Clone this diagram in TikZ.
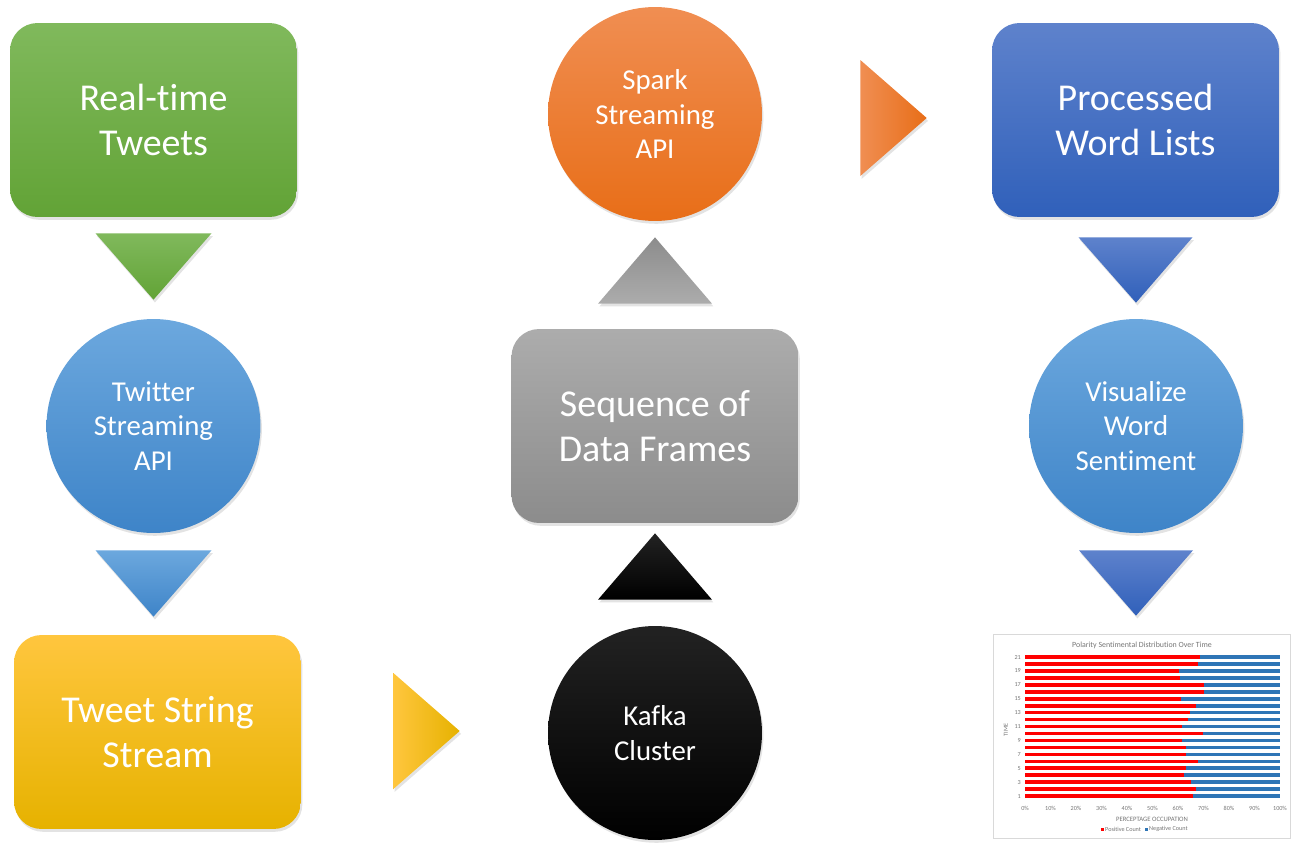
\documentclass[tikz,border=0pt]{standalone}
\usepackage{fontspec}
\setmainfont{Carlito}[Ligatures=NoCommon]
\usepackage{tikz}
\usetikzlibrary{shadows}
\usetikzlibrary{calc}
\usetikzlibrary{positioning}
\definecolor{greenTop}{RGB}{128,185,92}
\definecolor{greenBot}{RGB}{98,163,54}
\definecolor{skyTop}{RGB}{108,168,222}
\definecolor{skyBot}{RGB}{62,132,200}
\definecolor{goldTop}{RGB}{255,198,62}
\definecolor{goldBot}{RGB}{230,178,0}
\definecolor{inkTop}{RGB}{34,34,34}
\definecolor{inkBot}{RGB}{0,0,0}
\definecolor{greyTop}{RGB}{172,172,172}
\definecolor{greyBot}{RGB}{140,140,140}
\definecolor{orangeTop}{RGB}{240,142,82}
\definecolor{orangeBot}{RGB}{232,110,24}
\definecolor{navyTop}{RGB}{94,130,204}
\definecolor{navyBot}{RGB}{48,96,186}
\definecolor{posred}{RGB}{255,0,0}
\definecolor{negblue}{RGB}{46,117,182}
\definecolor{chartgrey}{RGB}{118,118,118}
\tikzstyle{soft_shadow}=[drop shadow={shadow xshift=0.8pt, shadow yshift=-1.6pt, opacity=0.22}]
\tikzstyle{stage_box}=[rectangle, rounded corners=0.55cm, minimum width=5.74cm, minimum height=3.88cm,
    inner sep=0pt, text=white, align=center, font=\fontsize{21.6}{25.5}\selectfont, soft_shadow]
\tikzstyle{stage_circle}=[circle, minimum size=4.28cm, inner sep=0pt, text=white, align=center,
    font=\fontsize{16.4}{19.8}\selectfont, soft_shadow]
\tikzstyle{flow_tip}=[soft_shadow]
\tikzstyle{tick_label}=[inner sep=0.5pt, text=chartgrey, font=\fontsize{3.5}{4}\selectfont]

\begin{document}
\begin{tikzpicture}[x=0.02cm, y=-0.02cm]
  \useasboundingbox (0,0) rectangle (1292,852);
  % stages
  \node[stage_box, top color=greenTop, bottom color=greenBot] (tweets) at (153.5,120) {Real-time\\Tweets};
  \node[stage_circle, top color=skyTop, bottom color=skyBot] (twapi) at (153.5,426) {Twitter\\Streaming\\API};
  \node[stage_box, top color=goldTop, bottom color=goldBot] (stream) at (157.5,732) {Tweet String\\Stream};
  \node[stage_circle, top color=inkTop, bottom color=inkBot] (kafka) at (655,733) {Kafka\\Cluster};
  \node[stage_box, top color=greyTop, bottom color=greyBot] (frames) at (655,426) {Sequence of\\Data Frames};
  \node[stage_circle, top color=orangeTop, bottom color=orangeBot] (spark) at (655,114) {Spark\\Streaming\\API};
  \node[stage_box, top color=navyTop, bottom color=navyBot] (words) at (1135.5,120) {Processed\\Word Lists};
  \node[stage_circle, top color=skyTop, bottom color=skyBot] (visual) at (1136,426) {Visualize\\Word\\Sentiment};
  \node[rectangle, draw={rgb,255:red,217;green,217;blue,217}, fill=white, minimum width=5.94cm, minimum height=4.08cm] (chart) at (1141.5,736) {};
  % flow tips
  \path[flow_tip, top color=greenTop, bottom color=greenBot] ($(tweets.south)+(-58,16)$) -- ($(tweets.south)+(58,16)$) -- ($(twapi.north)+(0,-19)$) -- cycle;
  \path[flow_tip, top color=skyTop, bottom color=skyBot] ($(twapi.south)+(-58,17)$) -- ($(twapi.south)+(58,17)$) -- ($(stream.north)+(-4,-18)$) -- cycle;
  \path[flow_tip, left color=goldTop, right color=goldBot] ($(stream.east)+(92,-59)$) -- ($(stream.east)+(92,57)$) -- ($(kafka.west)+(-88,-2)$) -- cycle;
  \path[flow_tip, top color=inkTop, bottom color=inkBot] ($(kafka.north)+(-57,-26)$) -- ($(kafka.north)+(57,-26)$) -- ($(frames.south)+(0,10)$) -- cycle;
  \path[flow_tip, top color=greyBot, bottom color=greyTop] ($(frames.north)+(-57,-25)$) -- ($(frames.north)+(57,-25)$) -- ($(spark.south)+(0,16)$) -- cycle;
  \path[flow_tip, left color=orangeTop, right color=orangeBot] ($(spark.east)+(98,-54)$) -- ($(spark.east)+(98,62)$) -- ($(words.west)+(-65,-2)$) -- cycle;
  \path[flow_tip, top color=navyTop, bottom color=navyBot] ($(words.south)+(-57,20)$) -- ($(words.south)+(57,20)$) -- ($(visual.north)+(0,-16)$) -- cycle;
  \path[flow_tip, top color=navyTop, bottom color=navyBot] ($(visual.south)+(-57,17)$) -- ($(visual.south)+(57,17)$) -- ($(chart.north)+(-5.5,-18)$) -- cycle;
  % chart
  \node[text=chartgrey, font=\fontsize{4.5}{5}\selectfont] (title) at (1142,645) {Polarity Sentimental Distribution Over Time};
  \foreach \p [count=\i] in {0.66,0.67,0.65,0.625,0.633,0.678,0.63,0.63,0.616,0.697,0.617,0.641,0.646,0.672,0.612,0.702,0.702,0.607,0.602,0.678,0.685}{
    \fill[posred] (1025,{803-\i*6.95-1.8}) rectangle ({1025+255*\p},{803-\i*6.95+1.8});
    \fill[negblue] ({1025+255*\p},{803-\i*6.95-1.8}) rectangle (1280,{803-\i*6.95+1.8});
  }
  \foreach \t in {1,3,...,21}
    \node[tick_label, anchor=east] at (1022,{803-\t*6.95}) {\t};
  \foreach \k in {0,10,...,100}
    \node[tick_label] at ({1025+2.55*\k},808) {\k\%};
  \node[tick_label, rotate=90] (timelbl) at (1006,730) {TIME};
  \node[tick_label, font=\fontsize{3.8}{4}\selectfont] (xlbl) at (1152,819) {PERCEPTAGE OCCUPATION};
  \fill[posred] (1101,827.5) rectangle (1104,830.5);
  \node[tick_label, anchor=west] (poslbl) at (1104,829) {Positive Count};
  \fill[negblue] (1145,827.5) rectangle (1148,830.5);
  \node[tick_label, anchor=west] (neglbl) at (1148,829) {Negative Count};
\end{tikzpicture}
\end{document}
